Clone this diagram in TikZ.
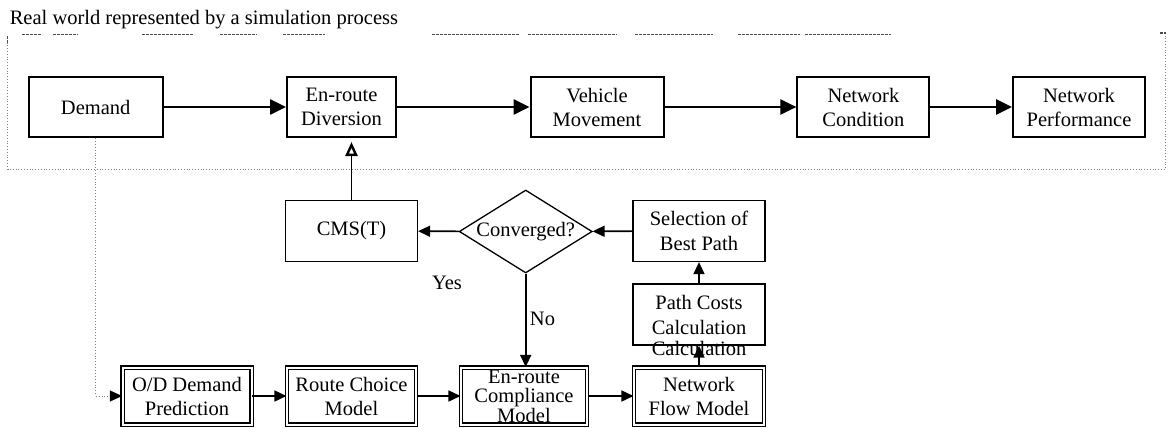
\documentclass[tikz,border=0pt]{standalone}
\usepackage{fontspec}
\setmainfont{Liberation Serif}
\usetikzlibrary{arrows.meta,shapes.geometric}
\begin{document}
\begin{tikzpicture}[x=1pt,y=-1pt,
  txt/.style={font=\fontsize{20.5}{24}\selectfont},
  topbox/.style={txt, draw, line width=2pt, minimum width=#1, minimum height=60pt,
                 inner sep=0pt, align=center},
  procbox/.style={txt, draw, line width=1.3pt, minimum width=#1, minimum height=61pt,
                 inner sep=0pt, align=center},
  dblbox/.style={txt, draw, double, line width=1.1pt, double distance=2pt,
                 minimum width=#1, minimum height=57pt, inner sep=0pt, align=center},
  bigarrow/.style={line width=2.6pt, -{Triangle[length=16pt,width=15pt]}},
  smallarrow/.style={line width=1.6pt, -{Triangle[length=12pt,width=11pt]}},
  openarrow/.style={line width=1.5pt, -{Triangle[open,length=14pt,width=12pt,line width=2.4pt]}},
  frame/.style={gray, line width=0.8pt, dotted},
  frametop/.style={black!70, line width=1.3pt, dash pattern=on 3pt off 1pt},
]
\useasboundingbox (0,0) rectangle (1168,428);

% caption of the simulated part
\node[txt, anchor=base west, inner sep=0pt] (title) at (9.6,25)
  {Real world represented by a simulation process};

% dotted frame round the simulation process
\draw[frame] (7.7,37) -- (7.7,169) -- (1165.5,169) -- (1165.5,33);
\foreach \a/\b in {22/42,53/78,142/193,220/257,283/325,432/520,528/617,635/713,738/800,805/891}
  \draw[frametop] (\a,34.5) -- (\b,34.5);
\draw[frametop] (1160,33) -- (1165.5,33);
\draw[frametop] (7.7,36) -- (7.7,44);

% simulation chain
\node[topbox=134pt] (demand) at (95.7,107) {Demand};
\node[topbox=109pt] (divers) at (341.5,107) {En-route\\Diversion};
\node[topbox=133pt] (vehicle) at (597,107) {Vehicle\\Movement};
\node[topbox=132pt] (cond) at (863.4,107) {Network\\Condition};
\node[topbox=132pt] (perf) at (1079,107) {Network\\Performance};

\draw[bigarrow] (demand) -- (divers);
\draw[bigarrow] (divers) -- (vehicle);
\draw[bigarrow] (vehicle) -- (cond);
\draw[bigarrow] (cond) -- (perf);

% guidance loop
\node[procbox=132pt] (cms) at (351.5,231) {CMS(T)};
\node[txt, draw, diamond, line width=1.3pt, aspect=1.6, inner sep=0pt,
      minimum width=133pt, minimum height=83pt] (conv) at (525.7,231.5) {Converged?};
\node[procbox=132pt, font=\fontsize{20.5}{25}\selectfont] (sel) at (699,231) {Selection of\\Best Path};
\node[procbox=132pt, font=\fontsize{20.5}{25}\selectfont] (path) at (699,314.5) {Path Costs\\Calculation};
\node[txt, inner sep=0pt] (calc) at (699,348.5) {Calculation};

\draw[openarrow] (cms.north) -- ([yshift=-4pt]cms.north |- divers.south);
\draw[smallarrow] (conv) -- (cms);
\draw[smallarrow] (sel) -- (conv);
\draw[smallarrow] (path) -- (sel);

\node[txt] (yes) at (447,283) {Yes};
\node[txt] (no) at (542.5,319) {No};

% model chain
\node[dblbox=129pt] (od) at (187,396) {O/D Demand\\Prediction};
\node[dblbox=129pt] (route) at (351.5,396) {Route Choice\\Model};
\node[dblbox=126pt, font=\fontsize{20.5}{19.5}\selectfont] (compl) at (524,396) {En-route\\Compliance\\Model};
\node[dblbox=130pt] (flow) at (699,396) {Network\\Flow Model};

\draw[smallarrow] (conv.south) -- (conv.south |- compl.north);
\draw[smallarrow] (od) -- (route);
\draw[smallarrow] (route) -- (compl);
\draw[smallarrow] (compl) -- (flow);
\draw[smallarrow] (flow) -- (path);

% demand feeds the prediction model
\draw[gray, line width=0.9pt, dotted] (demand.south) |- ([xshift=-12pt]od.west);
\draw[smallarrow, line width=0.1pt] ([xshift=-12pt]od.west) -- (od.west);
\end{tikzpicture}
\end{document}
